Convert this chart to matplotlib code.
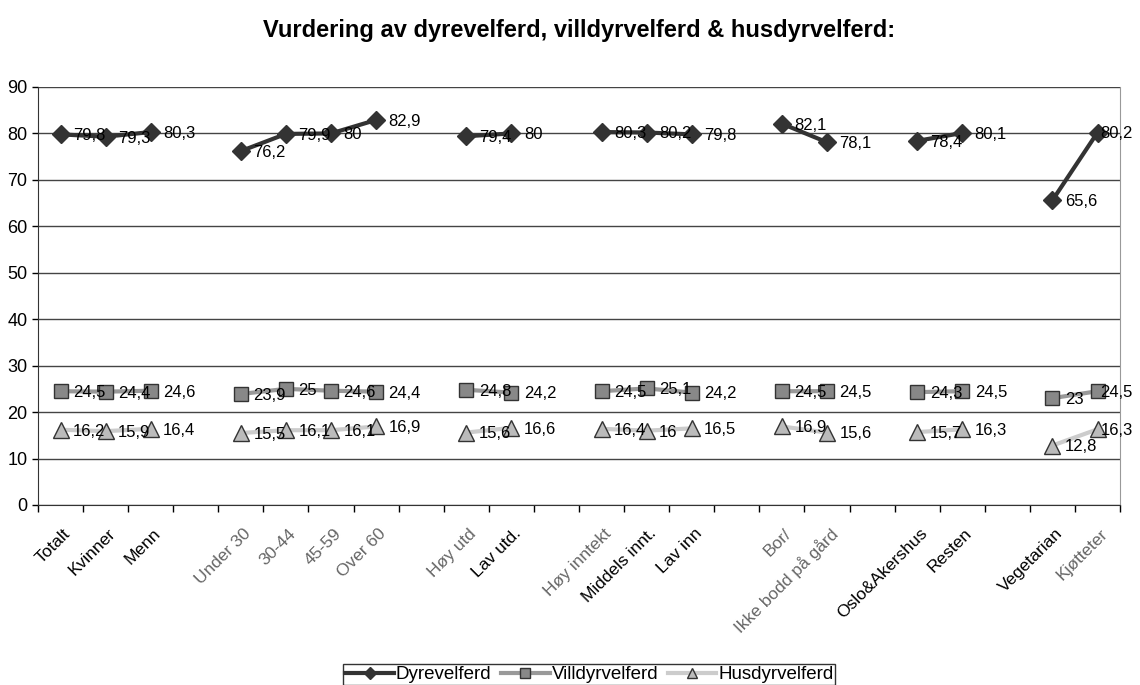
import numpy as np
import matplotlib
matplotlib.use("Agg")
import matplotlib.pyplot as plt

plt.rcParams['font.family'] = ['Liberation Sans', 'DejaVu Sans']

# categories (None = empty gap between groups)
categories = ["Totalt", "Kvinner", "Menn", None,
              "Under 30", "30-44", "45-59", "Over 60", None,
              "Høy utd", "Lav utd.", None,
              "Høy inntekt", "Middels innt.", "Lav inn", None,
              "Bor/", "Ikke bodd på gård", None,
              "Oslo&Akershus", "Resten", None,
              "Vegetarian", "Kjøtteter"]
# labels that look blurred/greyed in the original
faded = {"Under 30", "30-44", "45-59", "Over 60", "Høy utd", "Høy inntekt",
         "Bor/", "Ikke bodd på gård", "Kjøtteter"}

dyre = [79.8, 79.3, 80.3, None, 76.2, 79.9, 80, 82.9, None, 79.4, 80, None,
        80.3, 80.2, 79.8, None, 82.1, 78.1, None, 78.4, 80.1, None, 65.6, 80.2]
villdyr = [24.5, 24.4, 24.6, None, 23.9, 25, 24.6, 24.4, None, 24.8, 24.2, None,
           24.5, 25.1, 24.2, None, 24.5, 24.5, None, 24.3, 24.5, None, 23, 24.5]
husdyr = [16.2, 15.9, 16.4, None, 15.5, 16.1, 16.1, 16.9, None, 15.6, 16.6, None,
          16.4, 16, 16.5, None, 16.9, 15.6, None, 15.7, 16.3, None, 12.8, 16.3]

series = [
    ("Dyrevelferd", dyre, dict(color="#333333", lw=3, marker="D", ms=9,
                               mfc="#333333", mec="#333333")),
    ("Villdyrvelferd", villdyr, dict(color="#999999", lw=3, marker="s", ms=10,
                                     mfc="#888888", mec="#333333", mew=1)),
    ("Husdyrvelferd", husdyr, dict(color="#cccccc", lw=3, marker="^", ms=11,
                                   mfc="#bbbbbb", mec="#333333", mew=1)),
]

fig = plt.figure(figsize=(11.4, 6.85), dpi=100)
ax = fig.add_axes([0.0333, 0.2628, 0.9492, 0.6102])

x = np.arange(len(categories))
last = len(categories) - 1
for name, vals, style in series:
    y = np.array([np.nan if v is None else v for v in vals], dtype=float)
    ax.plot(x, y, label=name, **style)
    for xi, v in zip(x, vals):
        if v is None:
            continue
        txt = f"{v:g}".replace(".", ",")
        # the last labels are pushed left so they stay inside the figure
        dx = 2 if xi == last else 9
        ax.annotate(txt, (xi, v), xytext=(dx, -1), textcoords="offset points",
                    ha="left", va="center", fontsize=12)

ax.set_xlim(-0.5, len(categories) - 0.5)
ax.set_ylim(0, 90)
ax.set_yticks(np.arange(0, 91, 10))
ax.yaxis.grid(True, color="#444444", lw=1)
ax.set_axisbelow(True)
ax.tick_params(axis="y", labelsize=13, length=4, width=1)
ax.set_xticks(np.arange(len(categories) + 1) - 0.5)
ax.set_xticklabels([])
ax.tick_params(axis="x", length=5, width=1, direction="out", pad=0)
for xi, lab in enumerate(categories):
    if lab is None:
        continue
    ax.text(xi + 0.05, -4.5, lab, rotation=45, ha="right", va="top",
            rotation_mode="anchor", fontsize=12.5,
            color="#666666" if lab in faded else "black")

ax.spines["top"].set_visible(False)
ax.spines["right"].set_color("#999999")
ax.spines["left"].set_color("#333333")
ax.spines["bottom"].set_color("#333333")

ax.set_title("Vurdering av dyrevelferd, villdyrvelferd & husdyrvelferd:",
             fontsize=17, fontweight="bold", pad=36)

leg = fig.legend(loc="lower center", bbox_to_anchor=(0.517, 0.0), ncol=3,
                 fontsize=13.5, frameon=True, fancybox=False, edgecolor="black",
                 handlelength=2.6, handletextpad=0.1, columnspacing=0.5,
                 borderpad=0.1, borderaxespad=0, markerscale=0.65)
leg.get_frame().set_linewidth(1)

fig.savefig("out.png", dpi=100)
